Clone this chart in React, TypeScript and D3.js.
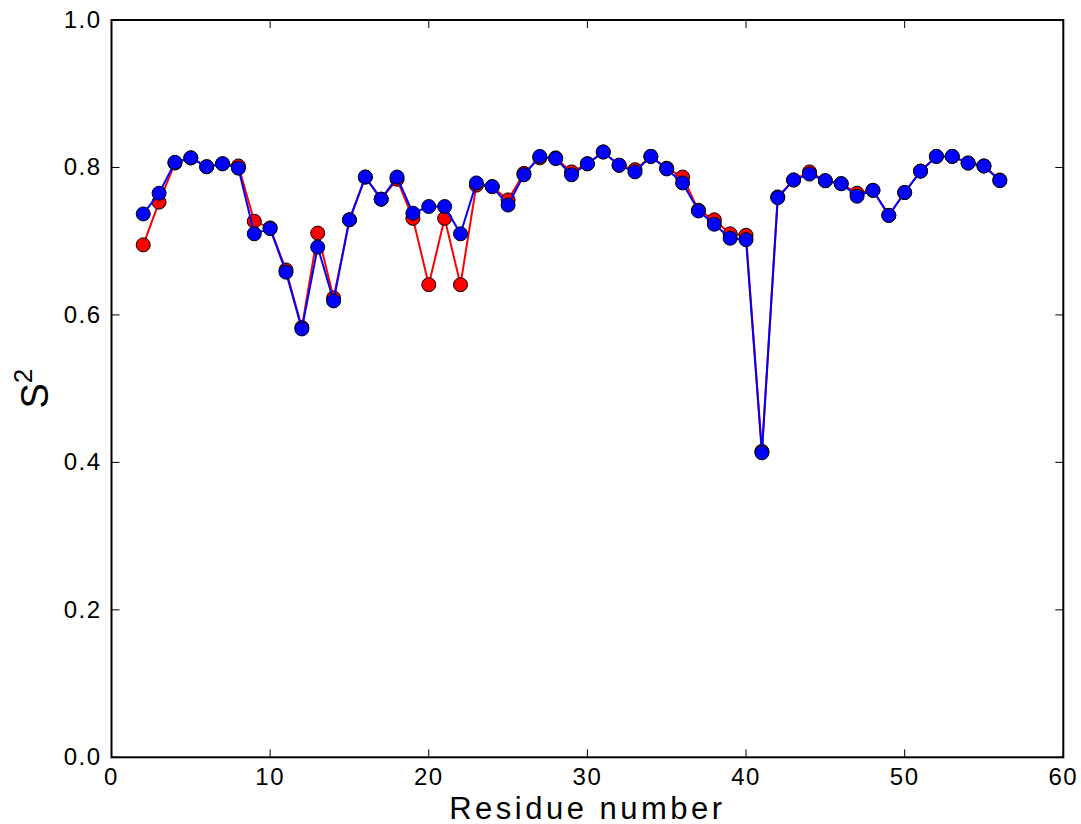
import React from "react";
import * as d3 from "d3";

const residues: number[] = Array.from({ length: 55 }, (_, i) => i + 2);

const redValues: number[] = [
  0.695, 0.753, 0.806, 0.813, 0.801, 0.805, 0.802, 0.727, 0.718, 0.661,
  0.583, 0.711, 0.623, 0.729, 0.787, 0.757, 0.784, 0.731, 0.641, 0.731,
  0.641, 0.776, 0.774, 0.756, 0.792, 0.813, 0.813, 0.794, 0.805, 0.821,
  0.803, 0.797, 0.815, 0.799, 0.787, 0.742, 0.729, 0.710, 0.708, 0.415,
  0.760, 0.783, 0.794, 0.782, 0.778, 0.765, 0.769, 0.735, 0.766, 0.795,
  0.815, 0.815, 0.806, 0.802, 0.783,
];

const blueValues: number[] = [
  0.737, 0.765, 0.807, 0.813, 0.801, 0.805, 0.799, 0.710, 0.717, 0.658,
  0.581, 0.692, 0.619, 0.729, 0.787, 0.757, 0.787, 0.738, 0.747, 0.747,
  0.710, 0.779, 0.774, 0.749, 0.790, 0.815, 0.812, 0.790, 0.805, 0.821,
  0.803, 0.794, 0.815, 0.798, 0.779, 0.741, 0.723, 0.704, 0.702, 0.413,
  0.759, 0.783, 0.791, 0.782, 0.778, 0.761, 0.769, 0.735, 0.766, 0.795,
  0.815, 0.815, 0.806, 0.802, 0.782,
];

const xTicks: number[] = [0, 10, 20, 30, 40, 50, 60];
const yTicks: number[] = [0, 0.2, 0.4, 0.6, 0.8, 1.0];

const W = 1081;
const H = 824;
const left = 111.5;
const right = 1063.3;
const top = 20;
const bottom = 757.3;

export default function App() {
  const x = d3.scaleLinear().domain([0, 60]).range([left, right]);
  const y = d3.scaleLinear().domain([0, 1]).range([bottom, top]);
  const line = d3
    .line<[number, number]>()
    .x((d) => x(d[0]))
    .y((d) => y(d[1]));

  const series = [
    { values: redValues, color: "#ff0000" },
    { values: blueValues, color: "#0000ff" },
  ];
  const font = "'Liberation Sans', Arial, sans-serif";
  const tickLen = 8;

  return (
    <svg
      width={W}
      height={H}
      style={{ position: "absolute", left: 0, top: 0, background: "#fff" }}
      fontFamily={font}
    >
      <rect x={0} y={0} width={W} height={H} fill="#fff" />
      {series.map((s, si) => {
        const pts: [number, number][] = residues.map((r, i) => [r, s.values[i]]);
        return (
          <g key={si}>
            <path d={line(pts) ?? ""} fill="none" stroke={s.color} strokeWidth={2} />
            {pts.map((p, i) => (
              <circle
                key={i}
                cx={x(p[0])}
                cy={y(p[1])}
                r={7}
                fill={s.color}
                stroke="#000"
                strokeWidth={1}
              />
            ))}
          </g>
        );
      })}
      {xTicks.map((t) => (
        <g key={"x" + t}>
          <line x1={x(t)} x2={x(t)} y1={bottom} y2={bottom - tickLen} stroke="#000" strokeWidth={1} />
          <line x1={x(t)} x2={x(t)} y1={top} y2={top + tickLen} stroke="#000" strokeWidth={1} />
          <text
            x={x(t)}
            y={bottom + 28}
            textAnchor="middle"
            fontSize={24}
            letterSpacing={1.5}
            fill="#000"
          >
            {t}
          </text>
        </g>
      ))}
      {yTicks.map((t) => (
        <g key={"y" + t}>
          <line x1={left} x2={left + tickLen} y1={y(t)} y2={y(t)} stroke="#000" strokeWidth={1} />
          <line x1={right} x2={right - tickLen} y1={y(t)} y2={y(t)} stroke="#000" strokeWidth={1} />
          <text
            x={left - 10}
            y={y(t) + 8}
            textAnchor="end"
            fontSize={24}
            letterSpacing={1.5}
            fill="#000"
          >
            {t.toFixed(1)}
          </text>
        </g>
      ))}
      <rect
        x={left}
        y={top}
        width={right - left}
        height={bottom - top}
        fill="none"
        stroke="#000"
        strokeWidth={2}
      />
      <text
        x={(left + right) / 2}
        y={819}
        textAnchor="middle"
        fontSize={31}
        letterSpacing={3.5}
        fill="#000"
      >
        Residue number
      </text>
      <g transform={`translate(48, ${(top + bottom) / 2}) rotate(-90)`}>
        <text x={0} y={0} textAnchor="middle" fontSize={38} fill="#000">
          S
          <tspan fontSize={26} dy={-16}>
            2
          </tspan>
        </text>
      </g>
    </svg>
  );
}
